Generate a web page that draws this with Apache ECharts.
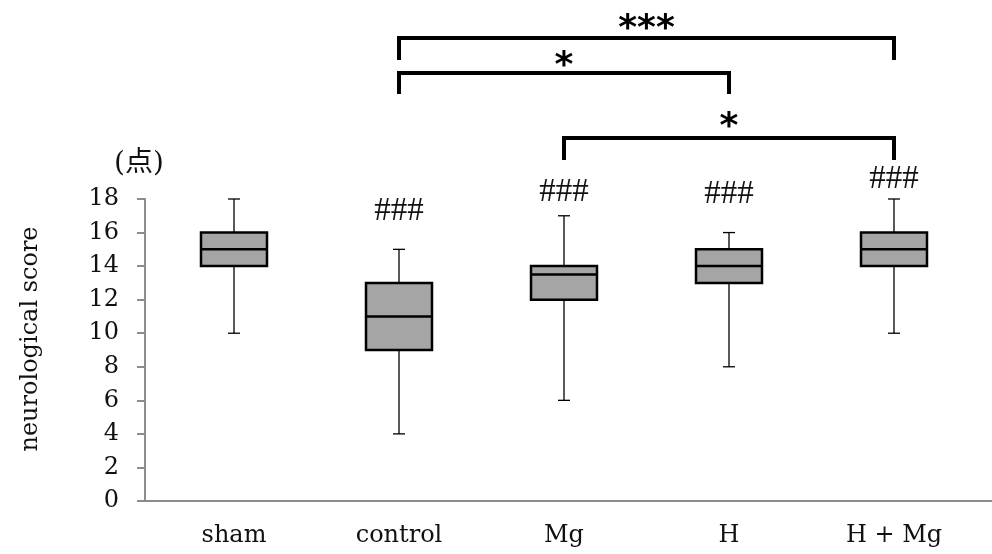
<!DOCTYPE html>
<html>
<head>
<meta charset="utf-8">
<style>
  html, body { margin: 0; padding: 0; background: #fff; }
  #chart { width: 992px; height: 554px; }
</style>
<script src="https://cdn.jsdelivr.net/npm/echarts@6/dist/echarts.min.js"></script>
</head>
<body>
<div id="chart"></div>
<script>
// Neurological score by group: five-number summaries per group
const categories   = ['sham', 'control', 'Mg', 'H', 'H + Mg'];
const whiskerLow   = [10, 4, 6, 8, 10];
const quartile1    = [14, 9, 12, 13, 14];
const medians      = [15, 11, 13.5, 14, 15];
const quartile3    = [16, 13, 14, 15, 16];
const whiskerHigh  = [18, 15, 17, 16, 18];

// Marks versus sham, and pairwise comparisons between groups
const hashMarks    = ['', '###', '###', '###', '###'];
const comparisons  = [
  ['control', 'H + Mg', '***'],
  ['control', 'H', '*'],
  ['Mg', 'H + Mg', '*']
];

const yTicks = { min: 0, max: 18, step: 2 };

// ---- layout (pixels) ----
const AXIS_GREY = '#8c8c8c';
const SERIF = '"DejaVu Serif", "Liberation Serif", serif';
const hashLift = [0, 38, 23, 38, 20];          // gap from whisker top to mark centre
const bracketRows = [                           // bar y, foot y, star centre y
  { bar: 38, foot: 60, text: 30 },
  { bar: 73, foot: 94, text: 67 },
  { bar: 138, foot: 160, text: 128 }
];

const boxData = categories.map((c, i) =>
  [i, whiskerLow[i], quartile1[i], medians[i], quartile3[i], whiskerHigh[i]]);
const hashData = categories.map((c, i) => [i, whiskerHigh[i]]);
const bracketData = comparisons.map(cmp =>
  [categories.indexOf(cmp[0]), categories.indexOf(cmp[1])]);

const chart = echarts.init(document.getElementById('chart'), null, { renderer: 'canvas' });

const GRID_TOP = 199, GRID_BOTTOM = 53;

chart.setOption({
  animation: false,
  backgroundColor: '#ffffff',
  grid: [
    { left: 145, right: 0, top: GRID_TOP, bottom: GRID_BOTTOM },
    { left: 151.5, right: 15.5, top: GRID_TOP, bottom: GRID_BOTTOM }
  ],
  xAxis: [
    {
      gridIndex: 0, type: 'value', min: 0, max: 1,
      axisLine: { show: true, lineStyle: { color: AXIS_GREY, width: 2 } },
      axisTick: { show: false }, axisLabel: { show: false }, splitLine: { show: false }
    },
    {
      gridIndex: 1, type: 'category', data: categories, boundaryGap: true,
      axisLine: { show: false }, axisTick: { show: false }, splitLine: { show: false },
      axisLabel: { color: '#111', fontFamily: SERIF, fontSize: 24, margin: 23 }
    }
  ],
  yAxis: [
    {
      gridIndex: 0, type: 'value', min: yTicks.min, max: yTicks.max, interval: yTicks.step,
      axisLine: { show: true, lineStyle: { color: AXIS_GREY, width: 2 } },
      axisTick: { show: true, inside: false, length: 8, lineStyle: { color: AXIS_GREY, width: 2 } },
      splitLine: { show: false },
      axisLabel: { color: '#111', fontFamily: SERIF, fontSize: 24, margin: 26 }
    },
    {
      gridIndex: 1, type: 'value', min: yTicks.min, max: yTicks.max, interval: yTicks.step,
      show: false, splitLine: { show: false }
    }
  ],
  graphic: [
    {
      type: 'text', x: 31, y: 339, rotation: Math.PI / 2,
      style: {
        text: 'neurological score', fill: '#111', font: '24px ' + SERIF,
        align: 'center', verticalAlign: 'middle'
      }
    },
    {
      type: 'text', x: 139, y: 164,
      style: {
        text: '(点)', fill: '#111',
        font: '28px "DejaVu Serif", "Noto Sans CJK JP", serif',
        align: 'center', verticalAlign: 'middle'
      }
    }
  ],
  series: [
    {
      // box-and-whisker marks
      type: 'custom',
      xAxisIndex: 1, yAxisIndex: 1,
      data: boxData,
      encode: { x: 0, y: [1, 2, 3, 4, 5] },
      renderItem: function (params, api) {
        const idx = api.value(0);
        const pLow = api.coord([idx, api.value(1)]);
        const pQ1 = api.coord([idx, api.value(2)]);
        const pMed = api.coord([idx, api.value(3)]);
        const pQ3 = api.coord([idx, api.value(4)]);
        const pHigh = api.coord([idx, api.value(5)]);
        const cx = pQ1[0];
        const bw = api.size([1, 0])[0] * 0.4;
        const cap = 6;
        const thin = { stroke: '#000', lineWidth: 1.3 };
        const thick = { stroke: '#000', lineWidth: 2.5 };
        return {
          type: 'group',
          children: [
            { type: 'line', shape: { x1: cx, y1: pQ3[1], x2: cx, y2: pHigh[1] }, style: thin },
            { type: 'line', shape: { x1: cx - cap, y1: pHigh[1], x2: cx + cap, y2: pHigh[1] }, style: thin },
            { type: 'line', shape: { x1: cx, y1: pQ1[1], x2: cx, y2: pLow[1] }, style: thin },
            { type: 'line', shape: { x1: cx - cap, y1: pLow[1], x2: cx + cap, y2: pLow[1] }, style: thin },
            {
              type: 'rect',
              shape: { x: cx - bw / 2, y: pQ3[1], width: bw, height: pQ1[1] - pQ3[1] },
              style: { fill: '#a5a5a5', stroke: '#000', lineWidth: 2.5 }
            },
            { type: 'line', shape: { x1: cx - bw / 2, y1: pMed[1], x2: cx + bw / 2, y2: pMed[1] }, style: thick }
          ]
        };
      }
    },
    {
      // "###" marks above groups
      type: 'custom',
      xAxisIndex: 1, yAxisIndex: 1,
      clip: false,
      data: hashData,
      encode: { x: 0, y: 1 },
      renderItem: function (params, api) {
        const i = params.dataIndex;
        if (!hashMarks[i]) return null;
        const p = api.coord([api.value(0), api.value(1)]);
        return {
          type: 'text',
          x: p[0], y: p[1] - hashLift[i],
          style: {
            text: hashMarks[i], fill: '#111',
            font: '33px "Liberation Serif", serif',
            align: 'center', verticalAlign: 'middle'
          }
        };
      }
    },
    {
      // comparison brackets with significance stars
      type: 'custom',
      xAxisIndex: 1, yAxisIndex: 1,
      clip: false,
      data: bracketData,
      encode: { x: [0, 1] },
      renderItem: function (params, api) {
        const i = params.dataIndex;
        const row = bracketRows[i];
        const x1 = api.coord([api.value(0), 0])[0];
        const x2 = api.coord([api.value(1), 0])[0];
        const ls = { stroke: '#000', lineWidth: 4, fill: null, lineJoin: 'miter', lineCap: 'butt' };
        return {
          type: 'group',
          children: [
            {
              type: 'polyline',
              shape: { points: [[x1, row.foot], [x1, row.bar], [x2, row.bar], [x2, row.foot]] },
              style: ls
            },
            {
              type: 'text',
              x: (x1 + x2) / 2, y: row.text,
              style: {
                text: comparisons[i][2], fill: '#000',
                font: 'bold 36px "DejaVu Sans", sans-serif',
                align: 'center', verticalAlign: 'middle'
              }
            }
          ]
        };
      }
    }
  ]
});
</script>
</body>
</html>
